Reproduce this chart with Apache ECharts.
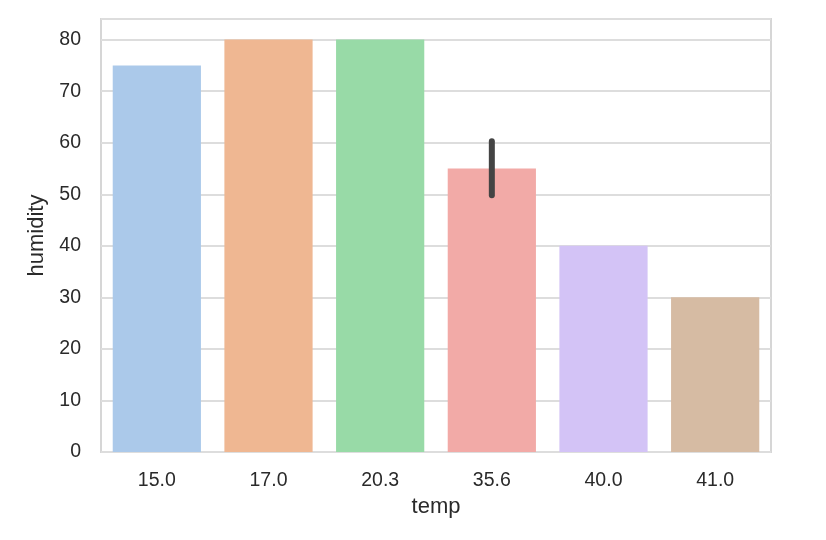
<!DOCTYPE html>
<html>
<head>
<meta charset="utf-8">
<script src="https://cdn.jsdelivr.net/npm/echarts@6/dist/echarts.min.js"></script>
<style>
  html, body { margin: 0; padding: 0; background: #fff; }
  #chart { width: 826px; height: 540px; }
</style>
</head>
<body>
<div id="chart"></div>
<script>
// ----------------------
// DATA
// ----------------------
const temps = ["15.0", "17.0", "20.3", "35.6", "40.0", "41.0"];
const humidity = [75, 80, 80, 55, 40, 30];
const errLow = [null, null, null, 49.8, null, null];
const errHigh = [null, null, null, 60.3, null, null];
const yTicks = [0, 10, 20, 30, 40, 50, 60, 70, 80];

// seaborn pastel, desaturated
const colors = ["#abc9ea", "#efb792", "#98daa7", "#f2aaa7", "#d3c3f6", "#d6bba3"];

const chart = echarts.init(document.getElementById("chart"));

const font = "Liberation Sans, Arial, sans-serif";

chart.setOption({
  animation: false,
  grid: { left: 101, right: 55, top: 19, bottom: 88, show: true, borderColor: "#d6d6d6", borderWidth: 2 },
  xAxis: {
    type: "category",
    data: temps,
    name: "temp",
    nameLocation: "middle",
    nameGap: 42,
    nameTextStyle: { fontFamily: font, fontSize: 22, color: "#2a2a2a" },
    axisLine: { show: false },
    axisTick: { show: false },
    axisLabel: { fontFamily: font, fontSize: 19.5, color: "#2a2a2a", margin: 19 },
    splitLine: { show: false }
  },
  yAxis: {
    type: "value",
    min: 0,
    max: 84,
    interval: 10,
    name: "humidity",
    nameLocation: "middle",
    nameGap: 53,
    nameTextStyle: { fontFamily: font, fontSize: 22, color: "#2a2a2a" },
    axisLine: { show: false },
    axisTick: { show: false },
    axisLabel: {
      fontFamily: font, fontSize: 19.5, color: "#2a2a2a", margin: 20,
      formatter: (v) => (yTicks.includes(v) ? String(v) : "")
    },
    splitLine: { lineStyle: { color: "#dddddd", width: 2 } }
  },
  series: [
    {
      type: "bar",
      barCategoryGap: "21%",
      data: humidity.map((v, i) => ({ value: v, itemStyle: { color: colors[i] } }))
    },
    {
      type: "custom",
      data: temps.map((t, i) => [i, errLow[i], errHigh[i]]),
      renderItem: (params, api) => {
        if (api.value(1) == null || isNaN(api.value(1))) return null;
        const a = api.coord([api.value(0), api.value(1)]);
        const b = api.coord([api.value(0), api.value(2)]);
        return {
          type: "line",
          shape: { x1: a[0], y1: a[1], x2: b[0], y2: b[1] },
          style: { stroke: "#444444", lineWidth: 6, lineCap: "round" }
        };
      },
      z: 5
    }
  ]
});
</script>
</body>
</html>
